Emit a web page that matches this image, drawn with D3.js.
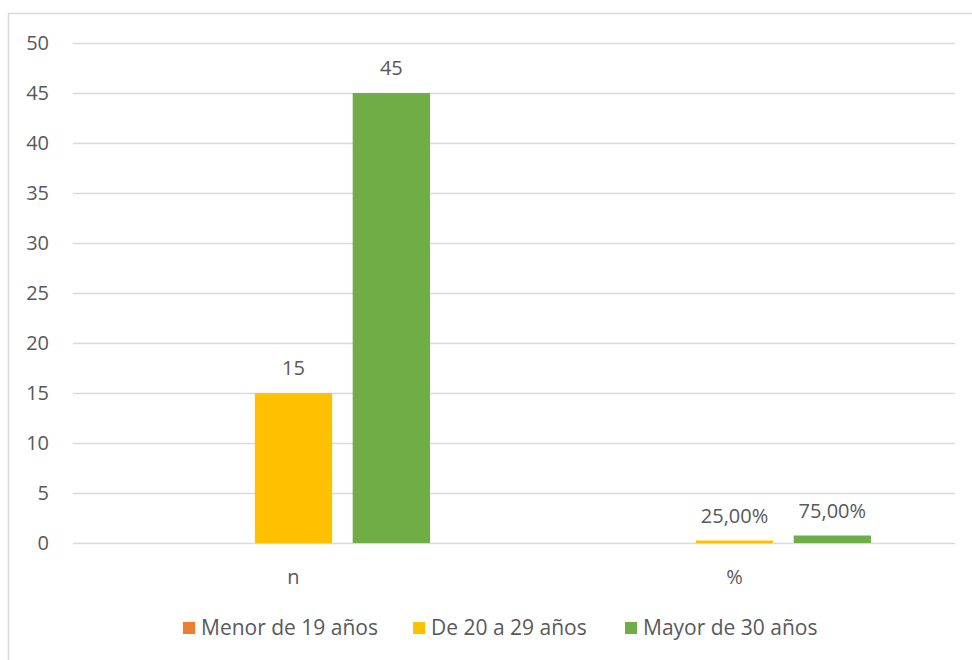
<!DOCTYPE html>
<html>
<head>
<meta charset="utf-8">
<script src="https://cdn.jsdelivr.net/npm/d3@7"></script>
<style>
  body { margin: 0; background: #fff; }
  text { font-family: "Open Sans", "Noto Sans", sans-serif; fill: #595959; }
</style>
</head>
<body>
<svg id="chart" width="972" height="660"></svg>
<script>
// data
var categories = ["n", "%"];
var seriesNames = ["Menor de 19 años", "De 20 a 29 años", "Mayor de 30 años"];
var seriesColors = ["#ED7D31", "#FFC000", "#70AD47"];
// values per series, one per category (null = no bar)
var menor19 = [null, null];
var de20a29 = [15, 0.25];
var mayor30 = [45, 0.75];
var yTicks = [0, 5, 10, 15, 20, 25, 30, 35, 40, 45, 50];

var seriesValues = [menor19, de20a29, mayor30];

var svg = d3.select("#chart"),
    width = 972,
    height = 660;

// outer chart border (extends past the picture on right/bottom)
svg.append("rect")
    .attr("x", 8.5).attr("y", 13.5)
    .attr("width", 1000).attr("height", 700)
    .attr("fill", "none")
    .attr("stroke", "#d9d9d9")
    .attr("stroke-width", 1.5);

var margin = {left: 73, right: 17, top: 43, bottom: 117};

var x0 = d3.scaleBand()
    .domain(categories)
    .range([margin.left, width - margin.right])
    .paddingInner(0).paddingOuter(0);

var x1 = d3.scaleBand()
    .domain(d3.range(seriesNames.length))
    .range([0, 273])
    .paddingInner(0.21);

var y = d3.scaleLinear()
    .domain([0, 50])
    .range([height - margin.bottom, margin.top]);

// gridlines
svg.append("g")
    .selectAll("line")
    .data(yTicks)
    .enter().append("line")
    .attr("x1", margin.left).attr("x2", width - margin.right)
    .attr("y1", function(d) { return Math.round(y(d)) + 0.5; })
    .attr("y2", function(d) { return Math.round(y(d)) + 0.5; })
    .attr("stroke", "#d9d9d9")
    .attr("stroke-width", 1.5);

// y tick labels
svg.append("g")
    .selectAll("text")
    .data(yTicks)
    .enter().append("text")
    .attr("x", 49)
    .attr("y", function(d) { return y(d); })
    .attr("dy", "0.35em")
    .attr("text-anchor", "end")
    .style("font-size", "20px")
    .text(function(d) { return d; });

// bars
var groups = svg.append("g")
    .selectAll("g")
    .data(categories)
    .enter().append("g")
    .attr("transform", function(d) {
        return "translate(" + (x0(d) + x0.bandwidth() / 2 - 273 / 2) + ",0)";
    });

var fmtPct = function(v) { return (v * 100).toFixed(2).replace(".", ",") + "%"; };

groups.each(function(cat, ci) {
    var g = d3.select(this);
    var items = seriesValues.map(function(vals, si) {
        return {si: si, v: vals[ci], cat: cat};
    }).filter(function(d) { return d.v != null; });

    g.selectAll("rect")
        .data(items)
        .enter().append("rect")
        .attr("x", function(d) { return x1(d.si); })
        .attr("width", x1.bandwidth())
        .attr("y", function(d) { return y(d.v); })
        .attr("height", function(d) { return y(0) - y(d.v); })
        .attr("fill", function(d) { return seriesColors[d.si]; });

    g.selectAll("text")
        .data(items)
        .enter().append("text")
        .attr("x", function(d) { return x1(d.si) + x1.bandwidth() / 2; })
        .attr("y", function(d) { return y(d.v) - 18; })
        .attr("text-anchor", "middle")
        .style("font-size", "20px")
        .text(function(d) { return d.cat == "%" ? fmtPct(d.v) : d.v; });
});

// category labels
svg.append("g")
    .selectAll("text")
    .data(categories)
    .enter().append("text")
    .attr("x", function(d) { return x0(d) + x0.bandwidth() / 2; })
    .attr("y", 584)
    .attr("text-anchor", "middle")
    .style("font-size", "20px")
    .text(function(d) { return d; });

// legend
var legendX = [183, 413, 625];
var legend = svg.append("g")
    .selectAll("g")
    .data(seriesNames)
    .enter().append("g")
    .attr("transform", function(d, i) { return "translate(" + legendX[i] + ",622)"; });

legend.append("rect")
    .attr("width", 12).attr("height", 12)
    .attr("fill", function(d, i) { return seriesColors[i]; });

legend.append("text")
    .attr("x", 18)
    .attr("y", 6)
    .attr("dy", "0.35em")
    .style("font-size", "21px")
    .text(function(d) { return d; });
</script>
</body>
</html>
